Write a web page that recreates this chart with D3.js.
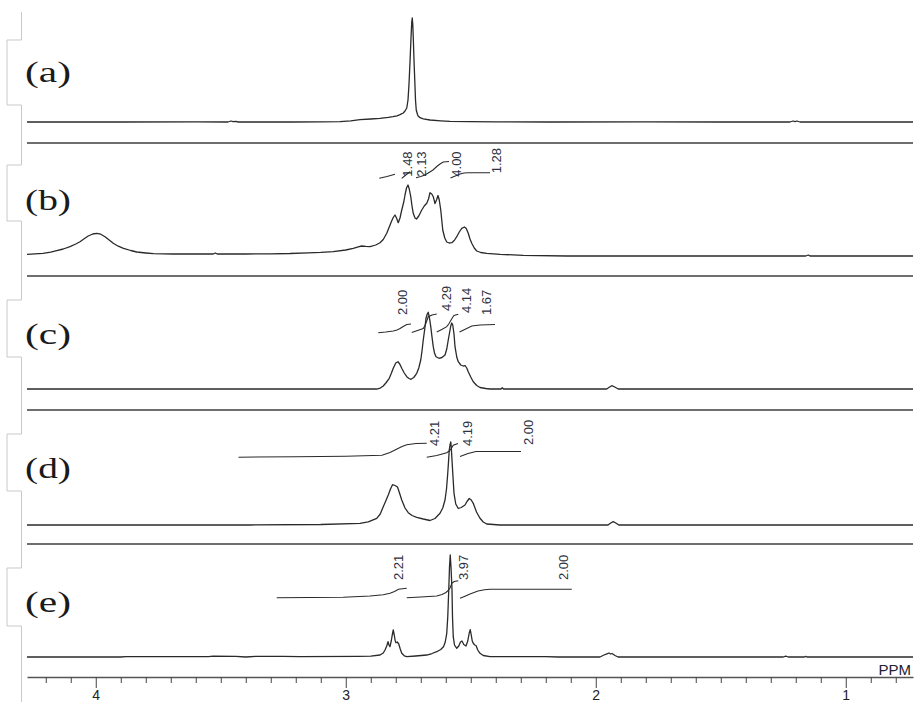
<!DOCTYPE html>
<html><head><meta charset="utf-8">
<script src="https://cdn.jsdelivr.net/npm/d3@7"></script>
<style>body{margin:0;background:#fff}svg{display:block}</style>
</head><body>
<svg id="c" width="916" height="702"></svg>
<script>
// ---------- DATA ----------
const panelNames = ["(a)","(b)","(c)","(d)","(e)"];
const majorTicks = [4,3,2,1];
const majorTickLabels = ["4","3","2","1"];
const minorTicks = [4.2,4.1,3.9,3.8,3.7,3.6,3.5,3.4,3.3,3.2,3.1,2.9,2.8,2.7,2.6,2.5,2.4,2.3,2.2,2.1,1.9,1.8,1.7,1.6,1.5,1.4,1.3,1.2,1.1,0.9,0.8];
const axisUnit = "PPM";

// spectra: [ppm, intensity]
const specA = [[4.275,0],[3.9,0],[3.6,0.2],[3.471,0],[3.459,1],[3.451,0.4],[3.44,0.6],[3.43,0],[3.223,0],[3.10,0.2],[3.023,0.4],[2.98,1.2],[2.943,2.3],[2.90,3],[2.863,3.7],[2.83,4.6],[2.811,5.3],[2.795,6.2],[2.783,7.3],[2.770,9],[2.763,11],[2.756,14],[2.751,22],[2.747,38],[2.743,60],[2.739,84],[2.736,100],[2.734,104],[2.732,98],[2.730,85],[2.727,62],[2.724,42],[2.721,22],[2.718,12],[2.713,7.5],[2.711,6.3],[2.703,4.3],[2.69,3.2],[2.663,2],[2.62,1.2],[2.583,0.7],[2.503,0.3],[2.40,0.2],[2.183,0],[1.8,0.2],[1.5,0],[1.223,0],[1.211,1],[1.203,0.4],[1.195,1],[1.183,0],[0.731,0]];
const specB = [[4.275,0.7],[4.211,1.7],[4.18,2.8],[4.156,4.3],[4.13,6],[4.103,8.3],[4.08,11],[4.063,13.3],[4.045,16.5],[4.030,19],[4.012,21],[3.996,21.7],[3.98,20.8],[3.963,18.3],[3.945,14.8],[3.930,11.7],[3.91,8.8],[3.889,6.7],[3.86,4.5],[3.836,3],[3.80,2],[3.769,1.3],[3.691,1],[3.6,1],[3.53,1],[3.522,2],[3.514,1],[3.40,1],[3.30,1.2],[3.223,1.5],[3.15,2.2],[3.10,2.6],[3.050,3.3],[3.00,5],[2.970,6.7],[2.950,8.2],[2.936,9],[2.920,8.6],[2.903,8.3],[2.880,10],[2.863,12.3],[2.850,15.5],[2.836,21.7],[2.826,28],[2.816,34.3],[2.810,37.5],[2.803,40],[2.797,37],[2.790,32.3],[2.783,37],[2.776,45],[2.768,53],[2.763,60],[2.757,67],[2.751,70],[2.746,66],[2.740,58.3],[2.735,49],[2.730,41.7],[2.723,37],[2.717,36],[2.708,39],[2.696,45],[2.686,49],[2.676,51.7],[2.669,56],[2.663,62.3],[2.656,61],[2.650,58.3],[2.643,51.5],[2.637,55],[2.631,59.5],[2.626,55],[2.620,45],[2.616,35],[2.612,25],[2.604,17],[2.596,13],[2.586,12],[2.576,12.3],[2.566,14.5],[2.556,18.3],[2.546,23],[2.536,26.7],[2.525,28],[2.518,26.5],[2.510,21.7],[2.503,16],[2.496,11.7],[2.486,7],[2.476,4],[2.46,2.5],[2.436,1.7],[2.383,0.7],[2.290,-0.3],[2.116,-1],[1.9,-1],[1.583,-1],[1.16,-1],[1.15,0],[1.143,-1],[0.731,-1]];
const specC = [[4.275,0],[3.5,0],[3.0,0],[2.876,0],[2.862,1],[2.850,3],[2.838,6.5],[2.826,10.7],[2.818,15.5],[2.810,20.7],[2.800,26],[2.791,27.3],[2.783,24.5],[2.776,20.7],[2.766,16],[2.756,12.3],[2.747,10.5],[2.739,9.7],[2.728,11.5],[2.716,15.7],[2.708,21],[2.700,29],[2.695,38],[2.690,49],[2.684,60],[2.679,70.7],[2.674,75],[2.670,76.7],[2.665,71],[2.660,62.3],[2.655,52],[2.650,42.3],[2.645,36],[2.639,32.3],[2.627,30.7],[2.615,31.5],[2.603,34],[2.596,40],[2.590,49],[2.585,56],[2.580,63],[2.576,66],[2.572,64],[2.567,55],[2.563,42.3],[2.556,32],[2.550,27.3],[2.540,24],[2.530,23],[2.523,23.5],[2.516,21],[2.510,17.3],[2.500,12],[2.490,7.3],[2.476,3.5],[2.463,1.5],[2.44,0.5],[2.423,0],[2.379,0],[2.374,1.3],[2.369,0],[2.1,0],[1.956,0],[1.946,1.8],[1.936,3.3],[1.924,2],[1.910,0],[1.5,0],[0.731,0]];
const specD = [[4.275,0],[3.8,0],[3.383,0],[3.1,0.5],[2.943,1.7],[2.91,3.2],[2.876,6.7],[2.862,11],[2.850,18.3],[2.840,24],[2.830,30],[2.821,36],[2.813,40.3],[2.803,39.5],[2.793,38],[2.785,32],[2.776,25],[2.763,17],[2.750,12.3],[2.735,9.5],[2.716,7.7],[2.69,6],[2.663,4.5],[2.643,6.5],[2.623,11.7],[2.612,17],[2.603,25],[2.597,36],[2.592,51.7],[2.589,63],[2.586,75],[2.583,80],[2.580,83],[2.578,78],[2.575,65],[2.571,48],[2.567,31.7],[2.560,21],[2.550,16.5],[2.538,17.5],[2.523,20],[2.515,23.5],[2.506,26.5],[2.498,25],[2.490,21.7],[2.477,13],[2.463,6.7],[2.450,3],[2.436,1],[2.383,0],[2.1,0],[1.951,0],[1.940,2],[1.930,3.3],[1.920,2],[1.908,0],[1.5,0],[0.731,0]];
const specE = [[4.275,0],[3.90,0],[3.88,0.4],[3.55,0.4],[3.53,0.8],[3.44,0.6],[3.40,0],[3.36,0.6],[3.25,0.6],[3.183,0.3],[2.95,0.6],[2.90,0.8],[2.863,2],[2.850,4],[2.843,7],[2.836,11],[2.831,15.3],[2.827,12],[2.823,10.3],[2.818,16],[2.814,22],[2.810,27],[2.806,22],[2.802,16],[2.799,14.3],[2.794,15],[2.788,13],[2.782,8],[2.776,3.7],[2.766,1.2],[2.756,0.3],[2.72,1],[2.676,2],[2.655,3.5],[2.636,5.3],[2.620,7.5],[2.609,10.3],[2.602,15],[2.596,23.7],[2.592,40],[2.588,67],[2.585,90],[2.582,102],[2.579,90],[2.575,67],[2.573,40],[2.570,20.3],[2.565,12],[2.556,8.7],[2.548,11],[2.541,15],[2.535,16],[2.528,12.5],[2.519,11],[2.512,16],[2.506,24],[2.502,27.3],[2.498,22],[2.494,16],[2.490,13.7],[2.484,12],[2.479,11.5],[2.472,7],[2.463,3.7],[2.45,1.5],[2.423,0.3],[2.2,0.3],[2.15,0],[1.983,0],[1.967,2],[1.955,3.2],[1.947,4],[1.941,3],[1.935,3.5],[1.923,1.5],[1.911,0],[1.25,0],[1.24,0.8],[1.23,0],[1.165,0],[1.16,0.6],[1.155,0],[0.731,0]];

// integral curves: [ppm, level]
const intA = [];
const intB = [
 [[2.866,76.7],[2.835,78.5],[2.803,80.7]],
 [[2.776,76.7],[2.760,80],[2.743,83.3]],
 [[2.719,77.3],[2.700,78.5],[2.683,80],[2.667,82.5],[2.651,85],[2.636,88.5],[2.623,91],[2.610,93],[2.587,93.5]],
 [[2.581,77],[2.562,79],[2.543,81],[2.527,82],[2.511,82.3],[2.423,82.3]]
];
const intC = [
 [[2.870,56.3],[2.840,57],[2.810,58],[2.795,59],[2.783,60.5],[2.770,62.5],[2.756,64.5],[2.739,65]],
 [[2.736,56.5],[2.713,58.5],[2.690,60.5],[2.684,63],[2.679,66],[2.674,69.5],[2.670,72.3],[2.655,74],[2.636,75]],
 [[2.636,57],[2.616,59.5],[2.596,62.3],[2.588,65],[2.581,68],[2.574,71],[2.567,73.5],[2.550,74.7]],
 [[2.545,57],[2.520,60],[2.496,63],[2.463,64],[2.403,64.5]]
];
const intD = [
 [[3.429,67.8],[3.2,68.3],[3.0,68.8],[2.855,69.7],[2.823,72.5],[2.795,76],[2.775,78.5],[2.756,80.3],[2.719,81.5],[2.676,81.8]],
 [[2.676,67.8],[2.636,69.5],[2.596,72.3],[2.586,74],[2.579,76],[2.570,79.8],[2.551,81.5]],
 [[2.543,68.5],[2.527,70],[2.511,71.5],[2.479,73.5],[2.299,73.5]]
];
const intE = [
 [[3.276,59.3],[3.010,59.7],[2.903,61],[2.850,62.3],[2.823,63.7],[2.805,65.5],[2.789,67.7],[2.756,68.7]],
 [[2.756,59.3],[2.700,60],[2.636,61],[2.615,62.5],[2.599,64.5],[2.590,66.5],[2.583,69],[2.575,74],[2.566,75.5],[2.550,76.3]],
 [[2.543,58.7],[2.523,60.8],[2.503,63],[2.471,66],[2.445,67.2],[2.423,67.7],[2.096,67.7]]
];

// integral value labels: [ppm, level, text]
const labA = [];
const labB = [[2.755,78.3,"1.48"],[2.696,78.3,"2.13"],[2.559,78.3,"4.00"],[2.396,81.7,"1.28"]];
const labC = [[2.773,74,"2.00"],[2.598,78,"4.29"],[2.518,76,"4.14"],[2.437,74,"1.67"]];
const labD = [[2.645,79,"4.21"],[2.513,79,"4.19"],[2.270,80,"2.00"]];
const labE = [[2.789,77,"2.21"],[2.530,77,"3.97"],[2.130,77,"2.00"]];

// ---------- LAYOUT ----------
const spectra = [specA,specB,specC,specD,specE];
const integrals = [intA,intB,intC,intD,intE];
const labels = [labA,labB,labC,labD,labE];
const baselines = [122,255,389,525,657];
const separators = [143,276,410,544];
const axisY = 677;
const labelBase = [82,210,344,478,612];
const notches = [[40,105],[165,221],[300,357],[434,491],[568,626]];

const svg = d3.select("#c");
const x = d3.scaleLinear().domain([4.275,0.731]).range([27,913]);

// left bracket (light gray)
(function(){
  let p = "M21.5,12";
  notches.forEach(n=>{ p += `V${n[0]}H7V${n[1]}H21.5`; });
  p += "V702";
  svg.append("path").attr("d",p).attr("fill","none").attr("stroke","#c9c9c9").attr("stroke-width",1);
})();

// separators
svg.selectAll("line.sep").data(separators).join("line").attr("class","sep")
  .attr("x1",x.range()[0]).attr("x2",x.range()[1]).attr("y1",d=>d).attr("y2",d=>d)
  .attr("stroke","#6e6e6e").attr("stroke-width",1.8);

spectra.forEach((spec,i)=>{
  const b = baselines[i];
  const y = d3.scaleLinear().domain([0,100]).range([b,b-100]);
  const line = d3.line().x(d=>x(d[0])).y(d=>y(d[1]));
  svg.append("path").datum(spec).attr("d",line)
    .attr("fill","none").attr("stroke","#2a2a2a").attr("stroke-width",1.3).attr("stroke-linejoin","round");
  integrals[i].forEach(seg=>{
    svg.append("path").datum(seg).attr("d",line)
      .attr("fill","none").attr("stroke","#2a2a2a").attr("stroke-width",1.1);
  });
  svg.selectAll(null).data(labels[i]).join("text")
    .attr("transform",d=>`translate(${x(d[0])+4.7},${y(d[1])}) rotate(-90)`)
    .attr("font-family","Liberation Sans, Arial, sans-serif").attr("font-size",13)
    .attr("fill","#2d3140").text(d=>d[2]);
  svg.append("text").attr("x",25).attr("y",labelBase[i])
    .attr("font-family","Liberation Serif, Times New Roman, serif").attr("font-size",29)
    .attr("textLength",46).attr("lengthAdjust","spacingAndGlyphs")
    .attr("fill","#1a1a1a").text(panelNames[i]);
});

// axis
const gMinor = svg.append("g").attr("transform",`translate(0,${axisY})`)
  .call(d3.axisBottom(x).tickValues(minorTicks).tickSize(6).tickSizeOuter(0).tickFormat(""));
gMinor.select(".domain").attr("stroke","#555").attr("stroke-width",1.6);
gMinor.selectAll(".tick line").attr("stroke","#444").attr("stroke-width",1);
const gMajor = svg.append("g").attr("transform",`translate(0,${axisY})`)
  .call(d3.axisBottom(x).tickValues(majorTicks).tickSize(11).tickPadding(2).tickFormat((d,i)=>majorTickLabels[i]));
gMajor.select(".domain").remove();
gMajor.selectAll(".tick line").attr("stroke","#444").attr("stroke-width",1);
gMajor.selectAll(".tick text").attr("font-family","Liberation Sans, Arial, sans-serif").attr("font-size",14).attr("fill","#222");

svg.append("text").attr("x",911).attr("y",675).attr("text-anchor","end")
  .attr("font-family","Liberation Sans, Arial, sans-serif").attr("font-size",15)
  .attr("fill","#1e2233").text(axisUnit);
</script>
</body></html>
